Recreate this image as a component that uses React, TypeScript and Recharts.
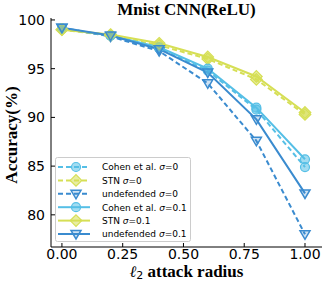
import React from 'react';
import { LineChart, Line, XAxis, YAxis } from 'recharts';

// ─── Data ─────────────────────────────────────────────────────────────────────

const radius = [0, 0.2, 0.4, 0.6, 0.8, 1.0];
const cohen0 = [99.1, 98.4, 97.1, 94.8, 90.8, 84.9];
const stn0 = [99.0, 98.4, 97.4, 96.0, 93.9, 90.3];
const undef0 = [99.2, 98.3, 96.8, 93.5, 87.6, 78.0];
const cohen01 = [99.1, 98.4, 97.2, 95.0, 91.0, 85.7];
const stn01 = [99.0, 98.5, 97.6, 96.2, 94.2, 90.5];
const undef01 = [99.2, 98.4, 97.0, 94.6, 89.8, 82.2];

const xTicks = [0, 0.25, 0.5, 0.75, 1.0];
const yTicks = [80, 85, 90, 95, 100];

const COHEN = '#55bfe6';
const STN = '#d6df55';
const UNDEF = '#3a8bcf';

type Shape = 'circle' | 'diamond' | 'tri';

interface Series {
  key: string;
  name: string;
  sigma: string;
  color: string;
  shape: Shape;
  dashed: boolean;
}

const series: Series[] = [
  { key: 'cohen0', name: 'Cohen et al. ', sigma: '0', color: COHEN, shape: 'circle', dashed: true },
  { key: 'stn0', name: 'STN ', sigma: '0', color: STN, shape: 'diamond', dashed: true },
  { key: 'undef0', name: 'undefended ', sigma: '0', color: UNDEF, shape: 'tri', dashed: true },
  { key: 'cohen01', name: 'Cohen et al. ', sigma: '0.1', color: COHEN, shape: 'circle', dashed: false },
  { key: 'stn01', name: 'STN ', sigma: '0.1', color: STN, shape: 'diamond', dashed: false },
  { key: 'undef01', name: 'undefended ', sigma: '0.1', color: UNDEF, shape: 'tri', dashed: false },
];

const rows = radius.map((r, i) => ({
  r,
  cohen0: cohen0[i],
  stn0: stn0[i],
  undef0: undef0[i],
  cohen01: cohen01[i],
  stn01: stn01[i],
  undef01: undef01[i],
}));

// ─── Markers ──────────────────────────────────────────────────────────────────

function Marker({ cx, cy, shape, color }: { cx: number; cy: number; shape: Shape; color: string }) {
  const common = { fill: color, fillOpacity: 0.55, stroke: color, strokeWidth: 1.2 };
  if (shape === 'circle') return <circle cx={cx} cy={cy} r={4.5} {...common} />;
  if (shape === 'diamond') {
    const d = 5.8;
    return <polygon points={`${cx},${cy - d} ${cx + d},${cy} ${cx},${cy + d} ${cx - d},${cy}`} {...common} />;
  }
  const s = 5;
  return (
    <polygon
      points={`${cx - s},${cy - s * 0.7} ${cx + s},${cy - s * 0.7} ${cx},${cy + s}`}
      fill={color}
      fillOpacity={0.25}
      stroke={color}
      strokeWidth={1.5}
    />
  );
}

const dotFor = (s: Series) => (p: any) =>
  p.cx == null ? <g key={p.key} /> : <Marker key={p.key} cx={p.cx} cy={p.cy} shape={s.shape} color={s.color} />;

// ─── Component ────────────────────────────────────────────────────────────────

const tickStyle = { fontFamily: 'DejaVu Sans', fontSize: 14, fill: '#000' };
const serif = '"Liberation Serif", "Times New Roman", serif';

export default function App() {
  return (
    <div style={{ position: 'absolute', left: 0, top: 0, width: 322, height: 282, background: '#fff' }}>
      <LineChart width={322} height={282} data={rows} margin={{ top: 18, right: 0, bottom: 0, left: 0 }}>
        <XAxis
          dataKey="r"
          type="number"
          domain={[-0.045, 1.07]}
          allowDataOverflow
          ticks={xTicks}
          tickFormatter={(v: number) => v.toFixed(2)}
          height={35}
          stroke="#000"
          tick={tickStyle}
          tickSize={-4}
          tickMargin={6}
          interval={0}
        />
        <YAxis
          type="number"
          domain={[76.7, 100.2]}
          allowDataOverflow
          ticks={yTicks}
          width={51}
          stroke="#000"
          tick={tickStyle}
          tickSize={-4}
          tickMargin={10}
          interval={0}
        />
        {series.map((s) => (
          <Line
            key={s.key}
            dataKey={s.key}
            stroke={s.color}
            strokeWidth={2}
            strokeDasharray={s.dashed ? '5 3' : undefined}
            dot={dotFor(s)}
            activeDot={false}
            isAnimationActive={false}
          />
        ))}
      </LineChart>

      {/* Title */}
      <div
        style={{
          position: 'absolute', left: 51, width: 271, top: 0, textAlign: 'center',
          fontFamily: serif, fontWeight: 'bold', fontSize: 17, lineHeight: '20px',
        }}
      >
        Mnist CNN(ReLU)
      </div>

      {/* X label */}
      <div
        style={{
          position: 'absolute', left: 51, width: 271, top: 263, textAlign: 'center',
          fontFamily: serif, fontWeight: 'bold', fontSize: 17, lineHeight: '17px', height: 17,
        }}
      >
        <span style={{ fontFamily: 'DejaVu Serif', fontStyle: 'italic', fontWeight: 'normal', fontSize: 16 }}>ℓ</span>
        <span style={{ fontFamily: 'DejaVu Sans', fontWeight: 'normal', fontSize: 11, position: 'relative', top: 2 }}>2</span>
        {' attack radius'}
      </div>

      {/* Y label */}
      <div style={{ position: 'absolute', left: 12, top: 135, width: 0, height: 0 }}>
        <div
          style={{
            position: 'absolute', transform: 'translate(-50%, -50%) rotate(-90deg)', whiteSpace: 'nowrap',
            fontFamily: serif, fontWeight: 'bold', fontSize: 17, lineHeight: '20px',
          }}
        >
          Accuracy(%)
        </div>
      </div>

      {/* Legend */}
      <svg style={{ position: 'absolute', left: 55, top: 157 }} width={136} height={85}>
        <rect x={0.5} y={0.5} width={135} height={84} rx={2} fill="#fff" fillOpacity={0.85} stroke="#cccccc" />
        {series.map((s, i) => {
          const y = 10 + i * 13.4;
          return (
            <g key={s.key}>
              <line x1={3} x2={35} y1={y} y2={y} stroke={s.color} strokeWidth={2} strokeDasharray={s.dashed ? '5 3' : undefined} />
              <Marker cx={21} cy={y} shape={s.shape} color={s.color} />
              <text x={47} y={y + 3.3} fontFamily="DejaVu Sans" fontSize={9} fill="#000">
                {s.name}
                <tspan fontStyle="italic">σ</tspan>
                {'=' + s.sigma}
              </text>
            </g>
          );
        })}
      </svg>
    </div>
  );
}
